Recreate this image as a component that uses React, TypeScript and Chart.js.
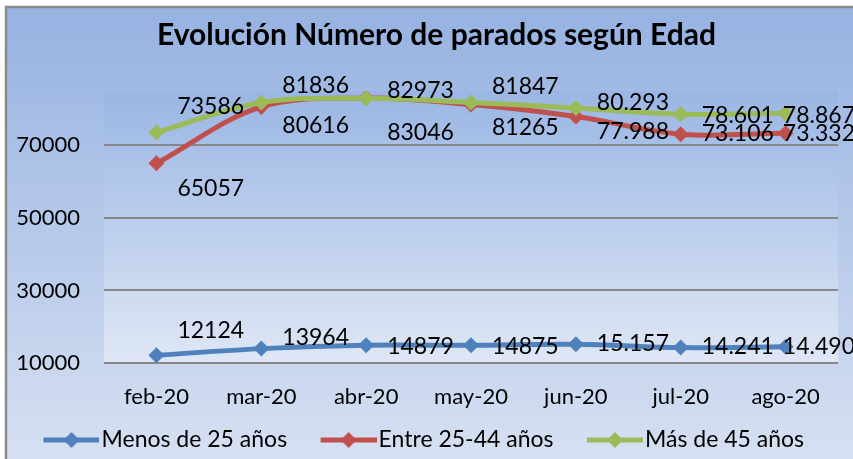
import React, { useEffect, useRef } from "react";
import { Chart, registerables } from "chart.js";

Chart.register(...registerables);

const categories = ["feb-20", "mar-20", "abr-20", "may-20", "jun-20", "jul-20", "ago-20"];
const menos25 = [12124, 13964, 14879, 14875, 15157, 14241, 14490];
const entre25a44 = [65057, 80616, 83046, 81265, 77988, 73106, 73332];
const mas45 = [73586, 81836, 82973, 81847, 80293, 78601, 78867];
const menos25Text = ["12124", "13964", "14879", "14875", "15.157", "14.241", "14.490"];
const entre25a44Text = ["65057", "80616", "83046", "81265", "77.988", "73.106", "73.332"];
const mas45Text = ["73586", "81836", "82973", "81847", "80.293", "78.601", "78.867"];
const yTickValues = [10000, 30000, 50000, 70000];
const seriesNames = ["Menos de 25 años", "Entre 25-44 años", "Más de 45 años"];

const COLORS = ["#4f81bd", "#c0504d", "#9bbb59"];
const FONT = "Lato, 'Noto Sans', sans-serif";
const LEGEND_FONT = 23;
const LEGEND_BOX = 56;

// label placement (relative vertical shift of each value label)
const labelShift = [
  [-25, -11, 1, 1, -1, -1, 0],
  [25, 19, 34, 23, 15, -1, 0],
  [-26, -17, -8, -16, -5, 1, 2],
];

function legendImage(color: string) {
  const W = Math.round(LEGEND_BOX + LEGEND_FONT - 4);
  const lineLen = 56;
  const start = W - lineLen;
  const c = document.createElement("canvas");
  c.width = W;
  c.height = 20;
  const ctx = c.getContext("2d")!;
  ctx.strokeStyle = color;
  ctx.lineWidth = 5;
  ctx.beginPath();
  ctx.moveTo(start, 10);
  ctx.lineTo(W, 10);
  ctx.stroke();
  ctx.fillStyle = color;
  const cx = start + lineLen / 2;
  ctx.beginPath();
  ctx.moveTo(cx, 2);
  ctx.lineTo(cx + 8, 10);
  ctx.lineTo(cx, 18);
  ctx.lineTo(cx - 8, 10);
  ctx.closePath();
  ctx.fill();
  return c;
}

const backgroundPlugin = {
  id: "excelBackground",
  afterLayout(chart: any) {
    if (chart.titleBlock) {
      chart.titleBlock.left += 35;
    }
  },
  beforeDraw(chart: any) {
    const { ctx, width, height, chartArea } = chart;
    ctx.save();
    ctx.fillStyle = "#ffffff";
    ctx.fillRect(0, 0, width, height);
    const g = ctx.createLinearGradient(0, 6, 0, height);
    g.addColorStop(0, "rgb(150,178,225)");
    g.addColorStop(1, "rgb(214,224,242)");
    ctx.fillStyle = g;
    ctx.fillRect(6, 7, width - 6, height - 7);
    ctx.strokeStyle = "#8a8a8a";
    ctx.lineWidth = 2.5;
    ctx.beginPath();
    ctx.moveTo(6, height);
    ctx.lineTo(6, 7);
    ctx.lineTo(width, 7);
    ctx.stroke();
    const { left, top, right, bottom } = chartArea;
    const pg = ctx.createLinearGradient(0, top, 0, bottom);
    pg.addColorStop(0, "rgb(154,182,228)");
    pg.addColorStop(1, "rgb(223,231,245)");
    ctx.fillStyle = pg;
    ctx.fillRect(left, top, right - left, bottom - top);
    ctx.restore();
  },
};

const valueLabelPlugin = {
  id: "valueLabels",
  afterDatasetsDraw(chart: any) {
    const { ctx, width } = chart;
    const texts = [menos25Text, entre25a44Text, mas45Text];
    ctx.save();
    ctx.font = `23px ${FONT}`;
    ctx.fillStyle = "#000000";
    ctx.textAlign = "left";
    ctx.textBaseline = "middle";
    chart.data.datasets.forEach((_ds: any, di: number) => {
      const meta = chart.getDatasetMeta(di);
      meta.data.forEach((pt: any, i: number) => {
        const t = texts[di][i];
        const w = ctx.measureText(t).width;
        let x = pt.x + 21;
        if (x + w > width + 2) x = width + 2 - w;
        ctx.fillText(t, x, pt.y + labelShift[di][i]);
      });
    });
    ctx.restore();
  },
};

export default function App() {
  const ref = useRef<HTMLCanvasElement | null>(null);
  useEffect(() => {
    document.body.style.margin = "0";
    const imgs = COLORS.map(legendImage);
    const mk = (label: string, data: number[], color: string, order: number) => ({
      label,
      data,
      borderColor: color,
      backgroundColor: color,
      borderWidth: 5,
      pointStyle: "rectRot",
      pointRadius: 8,
      pointBorderWidth: 0,
      pointBackgroundColor: color,
      tension: 0.35,
      order,
    });
    const chart = new Chart(ref.current!, {
      type: "line",
      data: {
        labels: categories,
        datasets: [
          mk(seriesNames[0], menos25, COLORS[0], 2),
          mk(seriesNames[1], entre25a44, COLORS[1], 1),
          mk(seriesNames[2], mas45, COLORS[2], 0),
        ],
      },
      plugins: [backgroundPlugin, valueLabelPlugin],
      options: {
        animation: false,
        responsive: false,
        devicePixelRatio: 1,
        layout: { padding: { left: 0, right: 15, top: 0, bottom: -2.5 } },
        plugins: {
          tooltip: { enabled: false },
          title: {
            display: true,
            text: "Evolución Número de parados según Edad",
            color: "#000000",
            font: { family: FONT, size: 30, weight: "bold" },
            padding: { top: 17, bottom: 38 },
          },
          legend: {
            position: "bottom",
            labels: {
              usePointStyle: true,
              pointStyleWidth: LEGEND_BOX,
              boxHeight: 16,
              padding: 24,
              color: "#000000",
              font: { family: FONT, size: LEGEND_FONT },
              sort: (a: any, b: any) => a.datasetIndex - b.datasetIndex,
              generateLabels: (c: any) =>
                c.data.datasets.map((ds: any, i: number) => ({
                  text: ds.label,
                  pointStyle: imgs[i],
                  fillStyle: ds.borderColor,
                  strokeStyle: ds.borderColor,
                  lineWidth: 0,
                  hidden: false,
                  datasetIndex: i,
                  fontColor: "#000000",
                })),
            },
          },
        },
        scales: {
          x: {
            offset: true,
            grid: { display: false },
            border: { display: false },
            ticks: { color: "#000000", font: { family: FONT, size: 22 }, padding: 13, maxRotation: 0 },
            afterFit: (s: any) => {
              s.height = 41.5;
              // let tick labels draw without being clipped to the axis box
              s._computeLabelArea = () => undefined;
            },
          },
          y: {
            min: 10000,
            max: 85000,
            grid: { color: "#878787", lineWidth: 2, drawTicks: false },
            border: { display: false },
            ticks: {
              color: "#000000",
              font: { family: FONT, size: 22 },
              padding: 24,
              callback: (v: any) => String(v),
            },
            afterBuildTicks: (s: any) => {
              s.ticks = yTickValues.map((value) => ({ value }));
            },
            afterFit: (s: any) => {
              s.width = 104;
            },
          },
        },
      } as any,
    });
    return () => chart.destroy();
  }, []);
  return <canvas ref={ref} width={853} height={459} style={{ display: "block" }} />;
}
